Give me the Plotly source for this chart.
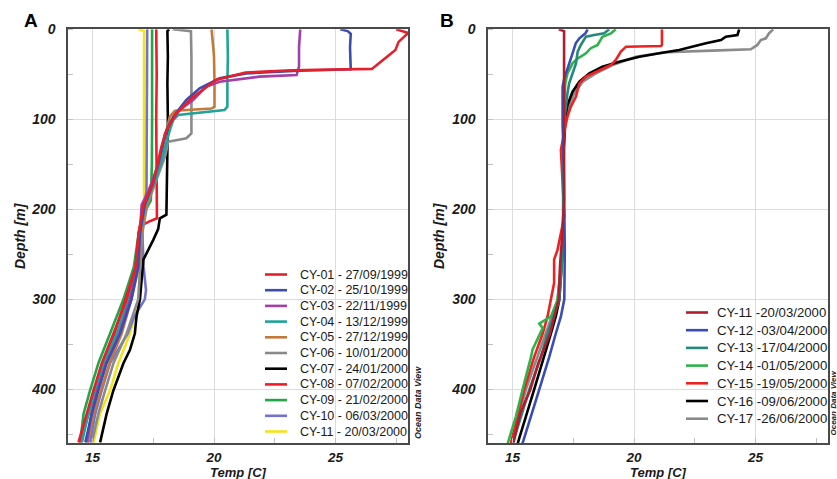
import plotly.graph_objects as go

# ---------------- Panel A: casts CY-01 .. CY-11 (Sep 1999 - Mar 2000) ----------------
cy01_depth = [0, 4, 14, 23, 31, 38, 42, 44, 45.5, 48, 56, 76, 93, 112, 130, 170, 195, 226, 264, 300, 338, 371, 401, 427, 459]
cy01_temp = [27.5, 28.0, 27.6, 27.47, 27.1, 26.8, 26.6, 26.5, 23.2, 21.3, 20.1, 19.1, 18.45, 18.05, 17.84, 17.5, 17.1, 16.9, 16.77, 16.4, 15.86, 15.38, 15.04, 14.77, 14.42]

cy02_depth = [0, 2, 5, 20, 44.5, 46, 49, 54.5, 65.6, 78.5, 97, 112, 127, 170, 195, 226, 264, 300, 338, 371, 401, 427, 459]
cy02_temp = [25.2, 25.5, 25.63, 25.6, 25.63, 23.5, 21.32, 20.23, 19.41, 18.86, 18.32, 18.05, 17.91, 17.5, 17.15, 16.95, 16.88, 16.6, 16.13, 15.58, 15.24, 14.97, 14.7]

cy03_depth = [0, 20, 41.5, 50.8, 52.6, 58.2, 63.7, 78.5, 89.7, 104.5, 115.6, 150, 180, 195, 226, 264, 300, 338, 371, 401, 427, 459]
cy03_temp = [23.55, 23.5, 23.5, 23.4, 21.87, 20.23, 19.68, 19.14, 18.59, 18.18, 17.98, 17.7, 17.3, 17.02, 16.95, 16.85, 16.55, 16.1, 15.55, 15.2, 14.95, 14.77]

cy04_depth = [0, 30, 60, 86, 89.7, 95.2, 100.8, 112, 140, 170, 195, 226, 264, 300, 338, 371, 401, 427, 459]
cy04_temp = [20.55, 20.57, 20.55, 20.55, 20.43, 18.52, 18.32, 18.18, 17.9, 17.55, 17.15, 16.95, 16.85, 16.47, 16.0, 15.45, 15.11, 14.83, 14.56]

cy05_depth = [0, 30, 60, 86, 88, 90.4, 97, 130, 170, 195, 226, 264, 300, 338, 371, 401, 427, 459]
cy05_temp = [19.9, 20.0, 20.02, 20.02, 19.9, 18.39, 18.18, 17.9, 17.55, 17.2, 17.0, 16.9, 16.6, 16.2, 15.7, 15.35, 15.05, 14.8]

cy06_depth = [0, 2, 30, 60, 90, 115.6, 121, 125, 140, 170, 195, 226, 264, 300, 338, 371, 401, 427, 459]
cy06_temp = [18.3, 19.05, 19.07, 19.07, 19.07, 19.07, 18.86, 18.11, 18.0, 17.6, 17.25, 17.05, 16.95, 16.88, 16.4, 15.86, 15.52, 15.24, 14.97]

cy07_depth = [0, 2, 30, 60, 100, 150, 206, 210, 222, 234, 249, 256, 300, 319, 338, 356, 371, 401, 427, 459]
cy07_temp = [18.15, 18.08, 18.1, 18.08, 18.1, 18.06, 18.04, 17.77, 17.7, 17.5, 17.22, 17.09, 16.95, 16.81, 16.74, 16.54, 16.27, 15.86, 15.58, 15.31]

cy08_depth = [0, 50, 100, 150, 210, 214, 219, 226, 264, 300, 338, 371, 401, 427, 459]
cy08_temp = [17.62, 17.64, 17.62, 17.63, 17.65, 17.3, 16.95, 16.9, 16.78, 16.35, 15.9, 15.45, 15.11, 14.83, 14.5]

cy09_depth = [0, 50, 100, 150, 190, 205, 226, 264, 300, 338, 371, 401, 427, 459]
cy09_temp = [17.45, 17.46, 17.45, 17.44, 17.4, 17.1, 16.9, 16.7, 16.27, 15.72, 15.24, 14.9, 14.63, 14.49]

cy10_depth = [0, 50, 100, 150, 180, 200, 226, 264, 290, 300, 320, 338, 371, 401, 427, 459]
cy10_temp = [17.25, 17.25, 17.24, 17.24, 17.22, 17.1, 17.05, 17.1, 17.2, 17.15, 16.7, 16.45, 15.72, 15.38, 15.11, 14.9]

cy11_depth = [0, 2, 50, 100, 150, 190, 226, 264, 300, 338, 371, 401, 427, 459]
cy11_temp = [16.9, 17.12, 17.12, 17.11, 17.12, 17.12, 17.05, 16.95, 16.9, 16.54, 16.06, 15.72, 15.31, 15.04]

# ---------------- Panel B: casts CY-11 .. CY-17 (Mar - Jun 2000) ----------------
cy12_depth = [0, 4.5, 10, 15.6, 26.7, 37.8, 45.2, 54.5, 63.7, 74.8, 89.7, 108, 134, 208, 245, 300, 319, 338, 364, 400, 430, 460]
cy12_temp = [18.09, 18.0, 17.75, 17.6, 17.47, 17.33, 17.22, 17.13, 17.06, 17.06, 17.09, 17.06, 17.1, 17.12, 17.15, 17.13, 16.99, 16.78, 16.51, 16.1, 15.76, 15.41]

cy13_depth = [0, 4.5, 6.3, 8.2, 17.4, 24.8, 37.8, 48.9, 60, 71.1, 89.7, 100.7, 134, 208, 245, 301, 338, 364, 400, 430, 460]
cy13_temp = [18.98, 18.77, 18.36, 18.02, 17.81, 17.68, 17.61, 17.47, 17.33, 17.26, 17.17, 17.13, 17.1, 17.1, 17.08, 16.92, 16.44, 16.17, 15.69, 15.35, 15.0]

cy14_depth = [0, 4.5, 8.2, 17.4, 21, 26.7, 30.4, 32.2, 37.8, 48.9, 60, 78.5, 100.7, 134, 208, 245, 301, 319, 327, 332, 356, 364, 393, 400, 430, 460]
cy14_temp = [19.25, 19.05, 18.7, 18.5, 18.22, 18.02, 17.81, 17.68, 17.47, 17.26, 17.17, 17.13, 17.13, 17.08, 17.08, 17.06, 16.85, 16.58, 16.1, 16.24, 15.82, 15.76, 15.48, 15.41, 15.14, 14.8]

cy15_depth = [0, 17.4, 18.6, 19.3, 24.8, 34.1, 39.7, 47, 52.6, 60, 74.8, 85.9, 97, 108, 134, 171, 208, 245, 256, 282, 301, 319, 338, 364, 400, 430, 460]
cy15_temp = [21.15, 21.15, 21.11, 19.67, 19.46, 19.25, 19.05, 18.43, 18.02, 17.75, 17.61, 17.4, 17.26, 17.17, 16.99, 17.06, 17.13, 16.85, 16.71, 16.71, 16.58, 16.44, 16.24, 15.89, 15.48, 15.21, 14.93]

cy16_depth = [0, 6.3, 8.2, 11.9, 15.6, 19.3, 23, 26.7, 30.4, 36, 41.5, 48.9, 58.2, 69.3, 84.1, 97, 134, 208, 245, 301, 319, 338, 364, 400, 430, 460]
cy16_temp = [24.33, 24.26, 23.78, 23.58, 22.96, 22.41, 21.86, 21.04, 20.22, 19.39, 18.7, 18.16, 17.75, 17.47, 17.26, 17.17, 17.1, 17.1, 17.06, 16.92, 16.78, 16.58, 16.3, 15.89, 15.55, 15.21]

cy17_depth = [0, 4.5, 10, 11.9, 17.4, 22.2, 23.7, 25.5, 30.4, 39.7, 48.9, 58.2, 71.1, 84.1, 97, 134, 208, 245, 301, 338, 364, 400, 430, 460]
cy17_temp = [25.73, 25.56, 25.43, 25.22, 25.08, 24.81, 23.23, 21.31, 20.08, 19.12, 18.43, 17.89, 17.54, 17.33, 17.2, 17.1, 17.1, 17.06, 16.85, 16.37, 16.03, 15.55, 15.27, 15.0]

labels_a = ["CY-01 - 27/09/1999", "CY-02 - 25/10/1999", "CY-03 - 22/11/1999", "CY-04 - 13/12/1999",
            "CY-05 - 27/12/1999", "CY-06 - 10/01/2000", "CY-07 - 24/01/2000", "CY-08 - 07/02/2000",
            "CY-09 - 21/02/2000", "CY-10 - 06/03/2000", "CY-11 - 20/03/2000"]
labels_b = ["CY-11 -20/03/2000", "CY-12 -03/04/2000", "CY-13 -17/04/2000", "CY-14 -01/05/2000",
            "CY-15 -19/05/2000", "CY-16 -09/06/2000", "CY-17 -26/06/2000"]

y_ticks = [0, 100, 200, 300, 400]
x_ticks = [15, 20, 25]

profiles_a = [(cy01_temp, cy01_depth), (cy02_temp, cy02_depth), (cy03_temp, cy03_depth),
              (cy04_temp, cy04_depth), (cy05_temp, cy05_depth), (cy06_temp, cy06_depth),
              (cy07_temp, cy07_depth), (cy08_temp, cy08_depth), (cy09_temp, cy09_depth),
              (cy10_temp, cy10_depth), (cy11_temp, cy11_depth)]
profiles_b = [(cy11_temp, cy11_depth), (cy12_temp, cy12_depth), (cy13_temp, cy13_depth),
              (cy14_temp, cy14_depth), (cy15_temp, cy15_depth), (cy16_temp, cy16_depth),
              (cy17_temp, cy17_depth)]

colors_a = ["#e5202a", "#3c4db0", "#a23fa9", "#1fa39b", "#c27a3c", "#8a8a8a",
            "#000000", "#ee1c24", "#22a646", "#7272d2", "#f3e41a"]
colors_b = ["#b01d2d", "#3a4db3", "#24897d", "#2db34a", "#ee2121", "#000000", "#8a8a8a"]

W, H = 837, 479
FONT = "Liberation Sans"


def fx(px):
    return px / W


def fy(py):
    return 1 - py / H


fig = go.Figure()

# draw casts in reverse so the earliest cast sits on top
for (t, d), col, name in reversed(list(zip(profiles_a, colors_a, labels_a))):
    fig.add_trace(go.Scatter(x=t, y=d, mode="lines", name=name, line=dict(color=col, width=2.6),
                             xaxis="x", yaxis="y", showlegend=False))
for (t, d), col, name in reversed(list(zip(profiles_b, colors_b, labels_b))):
    fig.add_trace(go.Scatter(x=t, y=d, mode="lines", name=name, line=dict(color=col, width=2.6),
                             xaxis="x2", yaxis="y2", showlegend=False))

tickfont = dict(family=FONT, size=14, color="#1a1a1a", weight="bold", style="italic")
common_x = dict(range=[14, 28], tickvals=x_ticks, ticktext=[str(v) for v in x_ticks],
                showgrid=True, gridcolor="#dcdcdc", gridwidth=1, ticks="", zeroline=False,
                showline=True, linecolor="#4a4a4a", linewidth=2, mirror=True,
                tickfont=dict(tickfont, size=13.5), ticklabelstandoff=0, automargin=False,
                minor=dict(dtick=2.5, ticks="inside", ticklen=5, tickcolor="#c0c0c0", showgrid=False))
common_y = dict(range=[460, 0], tickvals=y_ticks, ticktext=[str(v) for v in y_ticks],
                showgrid=True, gridcolor="#dcdcdc", gridwidth=1, ticks="", zeroline=False,
                showline=True, linecolor="#4a4a4a", linewidth=2, mirror=True,
                tickfont=tickfont, ticklabelstandoff=8, automargin=False,
                minor=dict(dtick=50, ticks="inside", ticklen=5, tickcolor="#c0c0c0", showgrid=False))

y_dom = [fy(443.3), fy(29.3)]
fig.update_layout(
    width=W, height=H,
    margin=dict(l=0, r=0, t=0, b=0, pad=0, autoexpand=False),
    paper_bgcolor="white", plot_bgcolor="white",
    showlegend=False,
    xaxis=dict(domain=[fx(68.3), fx(408.3)], anchor="y", **common_x),
    yaxis=dict(domain=y_dom, anchor="x", **common_y),
    xaxis2=dict(domain=[fx(488.3), fx(828.3)], anchor="y2", **common_x),
    yaxis2=dict(domain=y_dom, anchor="x2", **common_y),
)

ann = []
shapes = []
title_font = dict(family=FONT, size=13, color="#1a1a1a", weight="bold", style="italic")

# axis titles and panel letters
for cx_title, cx_depth, letter, lx in [(238.3, 20, "A", 31), (658.3, 439, "B", 447)]:
    ann.append(dict(text="Temp [C]", x=fx(cx_title), y=fy(472), xref="paper", yref="paper",
                    xanchor="center", yanchor="middle", showarrow=False, borderpad=0,
                    font=title_font))
    ann.append(dict(text="Depth [m]", x=fx(cx_depth), y=fy(236), xref="paper", yref="paper",
                    xanchor="center", yanchor="middle", showarrow=False, textangle=-90,
                    font=dict(title_font, size=14)))
    ann.append(dict(text=letter, x=fx(lx), y=fy(21), xref="paper", yref="paper",
                    xanchor="center", yanchor="middle", showarrow=False,
                    font=dict(family=FONT, size=19, color="#000000", weight="bold")))

# software credit along the right frame of each panel
for cx, fs in [(418, 9), (832.5, 8)]:
    ann.append(dict(text="Ocean Data View", x=fx(cx), y=fy(403), xref="paper", yref="paper",
                    xanchor="center", yanchor="middle", showarrow=False, textangle=-90,
                    borderpad=0,
                    font=dict(family=FONT, size=fs, color="#222222", weight="bold", style="italic")))

# legend blocks
legend_specs = [
    (labels_a, colors_a, 265, 287, 298, 274.5, 15.7, 12.5),
    (labels_b, colors_b, 686, 708, 715, 312.5, 17.7, 13.2),
]
for labels, cols, lx0, lx1, tx, y0, dy, fs in legend_specs:
    for i, (lab, col) in enumerate(zip(labels, cols)):
        yy = y0 + i * dy
        shapes.append(dict(type="line", xref="paper", yref="paper", x0=fx(lx0), x1=fx(lx1),
                           y0=fy(yy), y1=fy(yy), line=dict(color=col, width=2.6)))
        ann.append(dict(text=lab, x=fx(tx), y=fy(yy), xref="paper", yref="paper",
                        xanchor="left", yanchor="middle", showarrow=False,
                        font=dict(family=FONT, size=fs, color="#1a1a1a")))

fig.update_layout(annotations=ann, shapes=shapes)
fig.write_html("out.html", post_script="document.body.style.margin = '0';")
